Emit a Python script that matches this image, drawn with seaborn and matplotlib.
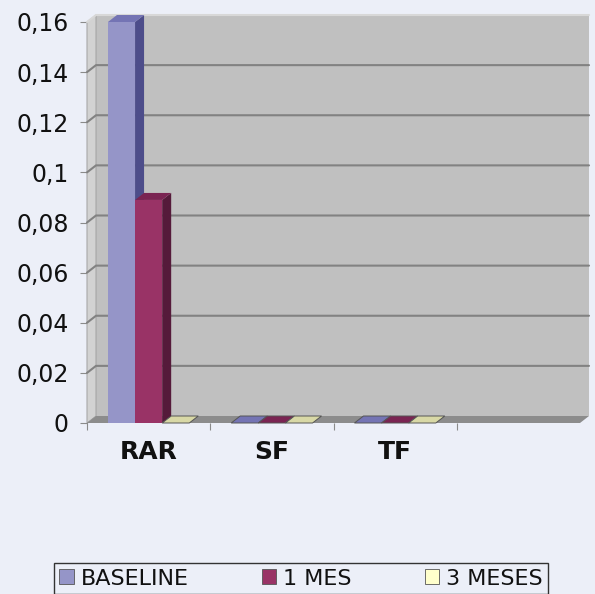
import numpy as np
import pandas as pd
import matplotlib
matplotlib.use("Agg")
import matplotlib.pyplot as plt
import seaborn as sns
from matplotlib.patches import Polygon, Patch

# datos
categorias = ["RAR", "SF", "TF"]
baseline = [0.16, 0.0, 0.0]
un_mes = [0.089, 0.0, 0.0]
tres_meses = [0.0, 0.0, 0.0]
series = ["BASELINE", "1 MES", "3 MESES"]
ticks_y = [0, 0.02, 0.04, 0.06, 0.08, 0.1, 0.12, 0.14, 0.16]
etiquetas_y = ["0", "0,02", "0,04", "0,06", "0,08", "0,1", "0,12", "0,14", "0,16"]

colores = {"BASELINE": "#9595c8", "1 MES": "#993366", "3 MESES": "#ffffcc"}
lados = {"BASELINE": "#4d4d8a", "1 MES": "#551a3a", "3 MESES": "#a8a87a"}
techos = {"BASELINE": "#7474b4", "1 MES": "#7a2452", "3 MESES": "#d8d8a6"}
fondo = "#eceff8"

df = pd.DataFrame({
    "cat": categorias * 3,
    "serie": np.repeat(series, len(categorias)),
    "valor": baseline + un_mes + tres_meses,
})

sns.set_theme(style="white")
plt.rcParams["font.family"] = ["DejaVu Sans"]

fig = plt.figure(figsize=(5.95, 5.94), dpi=100, facecolor=fondo)
ax = fig.add_axes([87 / 595, 171 / 594, 493 / 595, 401 / 594])
ax.set_facecolor("none")

sns.barplot(data=df, x="cat", y="valor", hue="serie", order=categorias,
            hue_order=series, palette=colores, width=0.66, ax=ax,
            edgecolor="none", linewidth=0, legend=False, zorder=5)

ax.set_xlim(-0.5, 3.5)
ax.set_ylim(0, 0.16)
fig.canvas.draw()

# profundidad 3D en pixeles
DX, DY = 9, 7
T = ax.transData


def px(x, y):
    return T.transform((x, y))


def atras(p):
    return (p[0] + DX, p[1] + DY)


def poly(pts, color, z, ec="none", lw=0):
    fig.patches.append(Polygon(pts, closed=True, facecolor=color, edgecolor=ec,
                               linewidth=lw, transform=None, zorder=z,
                               figure=fig))


x0, x1 = -0.5, 3.5
y0, y1 = 0, 0.16
# pared del fondo
poly([atras(px(x0, y0)), atras(px(x1, y0)), atras(px(x1, y1)), atras(px(x0, y1))],
     "#c0c0c0", 1)
# pared izquierda
poly([px(x0, y0), atras(px(x0, y0)), atras(px(x0, y1)), px(x0, y1)], "#d2d2d2", 1.1,
     ec="#9a9a9a", lw=0.6)
# suelo
poly([px(x0, y0), px(x1, y0), atras(px(x1, y0)), atras(px(x0, y0))], "#8c8c8c", 1.2)

# lineas de division
for v in ticks_y[1:]:
    a = px(x0, v)
    b = atras(a)
    c = atras(px(x1, v))
    col = "#d8d8d8" if v == y1 else "#828282"
    fig.lines.append(plt.Line2D([a[0], b[0], c[0]], [a[1], b[1], c[1]],
                                color=col, lw=1.5, transform=None, zorder=1.3,
                                figure=fig))

# caras laterales y superiores de las barras
serie_de = {}
for i, s in enumerate(series):
    for p in ax.patches[i * len(categorias):(i + 1) * len(categorias)]:
        serie_de[id(p)] = s
barras = sorted(ax.patches, key=lambda p: p.get_x())

for k, p in enumerate(barras):
    s = serie_de[id(p)]
    bx0, bx1 = p.get_x(), p.get_x() + p.get_width()
    h = p.get_height()
    z = 2 + k * 0.1
    a, b = px(bx0, 0), px(bx1, 0)
    ta, tb = px(bx0, h), px(bx1, h)
    if h > 0:
        poly([a, b, tb, ta], colores[s], z)
        poly([b, atras(b), atras(tb), tb], lados[s], z + 0.01)
        poly([ta, tb, atras(tb), atras(ta)], techos[s], z + 0.02)
    else:
        poly([ta, tb, atras(tb), atras(ta)], techos[s], z + 0.02,
             ec="#555555", lw=0.7)
    p.set_visible(False)

# ejes
for s in ["top", "right", "bottom"]:
    ax.spines[s].set_visible(False)
ax.spines["left"].set_color("#8a8a8a")
ax.spines["left"].set_linewidth(0.8)
ax.spines["left"].set_zorder(1.5)
ax.axhline(0, color="#8a8a8a", lw=0.8, zorder=1.5)

ax.set_yticks(ticks_y)
ax.set_yticklabels(etiquetas_y, fontsize=17, color="#111111")
ax.set_xticks(range(len(categorias)))
ax.set_xticklabels(categorias, fontsize=18, fontweight="bold", color="#111111")
ax.set_xticks([-0.5, 0.5, 1.5, 2.5], minor=True)
ax.tick_params(axis="y", length=5, width=0.8, color="#8a8a8a", pad=8, left=True)
ax.tick_params(axis="x", which="major", length=0, pad=12)
ax.tick_params(axis="x", which="minor", length=5, width=0.8, color="#8a8a8a",
               bottom=True)
ax.set_xlabel("")
ax.set_ylabel("")

# leyenda
manejadores = [Patch(facecolor=colores[s], edgecolor="#555555", linewidth=0.6,
                     label=s) for s in series]
fig.legend(handles=manejadores, loc="upper center", ncol=3,
           bbox_to_anchor=(301 / 595, 1 - 563 / 594), borderaxespad=0,
           fontsize=16, labelcolor="#111111", frameon=True, fancybox=False,
           edgecolor="#333333", facecolor=fondo, framealpha=1,
           handlelength=0.65, handleheight=0.65, handletextpad=0.3,
           columnspacing=3.3, borderpad=0.25)

fig.savefig("out.png", dpi=100, facecolor=fondo)
